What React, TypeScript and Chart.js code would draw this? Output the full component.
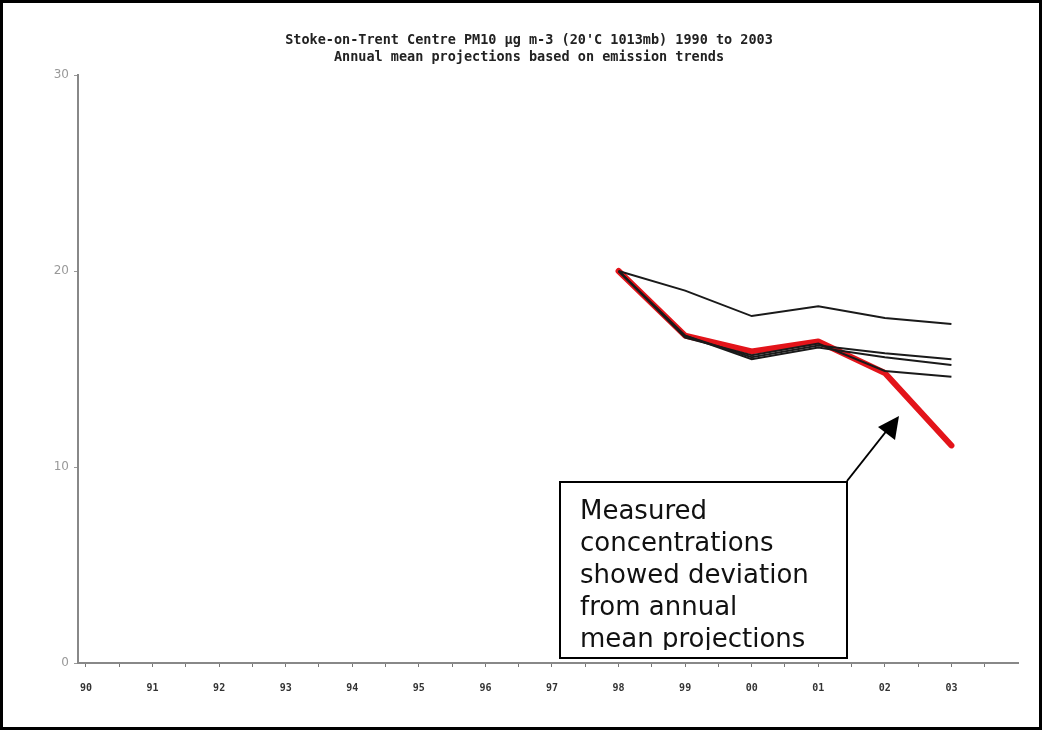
import React, { useEffect, useRef } from "react";
import { Chart, registerables } from "chart.js";

Chart.register(...registerables);

const years = [1998, 1999, 2000, 2001, 2002, 2003];
const xTickYears = [1990, 1991, 1992, 1993, 1994, 1995, 1996, 1997, 1998, 1999, 2000, 2001, 2002, 2003];
const measured = [20.0, 16.7, 15.9, 16.4, 14.8, 11.1];
const projectionA = [20.0, 19.0, 17.7, 18.2, 17.6, 17.3];
const projectionB = [20.0, 16.7, 15.6, 16.2, 15.8, 15.5];
const projectionC = [20.0, 16.7, 15.5, 16.1, 15.6, 15.2];
const projectionD = [20.0, 16.6, 15.7, 16.3, 14.9, 14.6];
const yTicks = [0, 10, 20, 30];
const titleLines = [
  "Stoke-on-Trent Centre PM10 \u00b5g m-3 (20'C 1013mb) 1990 to 2003",
  "Annual mean projections based on emission trends",
];
const noteLines = ["Measured", "concentrations", "showed deviation", "from annual", "mean projections"];

const toPoints = (vals: number[]) => vals.map((v, i) => ({ x: years[i], y: v }));

export default function App() {
  const ref = useRef<HTMLCanvasElement | null>(null);

  useEffect(() => {
    if (!ref.current) return;
    const black = (data: number[]) => ({
      data: toPoints(data),
      borderColor: "#1a1a1a",
      borderWidth: 2,
      pointRadius: 0,
      tension: 0,
      order: 1,
    });
    const chart = new Chart(ref.current, {
      type: "line",
      data: {
        datasets: [
          black(projectionA),
          black(projectionB),
          black(projectionC),
          black(projectionD),
          {
            data: toPoints(measured),
            borderColor: "#e3141a",
            borderWidth: 6,
            pointRadius: 0,
            tension: 0,
            borderCapStyle: "round",
            borderJoinStyle: "round",
            order: 2,
          },
        ],
      },
      options: {
        animation: false,
        responsive: false,
        maintainAspectRatio: false,
        layout: { padding: { left: 0, right: 38, top: 75, bottom: 30 } },
        plugins: {
          legend: { display: false },
          tooltip: { enabled: false },
          title: { display: false },
        },
        scales: {
          x: {
            type: "linear",
            min: 1989.88,
            max: 2004,
            afterBuildTicks: (scale: any) => {
              const t: any[] = [];
              for (let y = 1990; y <= 2003.5; y += 0.5) t.push({ value: y });
              scale.ticks = t;
            },
            afterFit: (scale: any) => {
              scale.height = 43;
            },
            grid: { display: true, drawOnChartArea: false, drawTicks: true, tickLength: 4, color: "#777" },
            border: { display: true, color: "#888", width: 2 },
            ticks: {
              autoSkip: false,
              maxRotation: 0,
              padding: 15,
              color: "#333",
              font: { family: "'DejaVu Sans Mono', monospace", size: 10, weight: "bold" },
              callback: (v: any) => {
                const n = Number(v);
                if (!Number.isInteger(n) || !xTickYears.includes(n)) return "";
                return String(n).slice(2);
              },
            },
          },
          y: {
            type: "linear",
            min: 0,
            max: 30,
            afterBuildTicks: (scale: any) => {
              scale.ticks = yTicks.map((v) => ({ value: v }));
            },
            afterFit: (scale: any) => {
              scale.width = 78;
            },
            grid: { display: true, drawOnChartArea: false, drawTicks: true, tickLength: 4, color: "#999" },
            border: { display: true, color: "#888", width: 2 },
            ticks: {
              padding: 5,
              color: "#999",
              font: { family: "'DejaVu Sans', sans-serif", size: 12 },
            },
          },
        },
      },
    });
    return () => chart.destroy();
  }, []);

  return (
    <div style={{ position: "fixed", left: 0, top: 0, width: 1056, height: 736, background: "#fff" }}>
      <canvas ref={ref} width={1056} height={736} style={{ position: "absolute", left: 0, top: 0 }} />
      <div
        style={{
          position: "absolute",
          left: 229,
          top: 31,
          width: 600,
          textAlign: "center",
          fontFamily: "'DejaVu Sans Mono', monospace",
          fontSize: 13.5,
          fontWeight: "bold",
          lineHeight: "17px",
          color: "#222",
          whiteSpace: "pre",
        }}
      >
        {titleLines.map((l, i) => (
          <div key={i}>{l}</div>
        ))}
      </div>
      <div
        style={{
          position: "absolute",
          left: 0,
          top: 0,
          width: 1042,
          height: 730,
          border: "3px solid #000",
          boxSizing: "border-box",
          pointerEvents: "none",
        }}
      />
      <div
        style={{
          position: "absolute",
          left: 559,
          top: 481,
          width: 289,
          height: 178,
          border: "2px solid #000",
          boxSizing: "border-box",
          background: "#fff",
          overflow: "hidden",
          fontFamily: "'DejaVu Sans', Verdana, sans-serif",
          fontSize: 26,
          lineHeight: "32px",
          color: "#111",
          padding: "11px 0 0 19px",
        }}
      >
        <div style={{ height: 156, overflow: "hidden" }}>
          {noteLines.map((l, i) => (
            <div key={i} style={{ whiteSpace: "nowrap" }}>{l}</div>
          ))}
        </div>
      </div>
      <svg width={1056} height={736} style={{ position: "absolute", left: 0, top: 0, pointerEvents: "none" }}>
        <line x1={847} y1={481} x2={888} y2={429} stroke="#000" strokeWidth={2} />
        <polygon points="899,416 878,427 895,440" fill="#000" />
      </svg>
    </div>
  );
}
